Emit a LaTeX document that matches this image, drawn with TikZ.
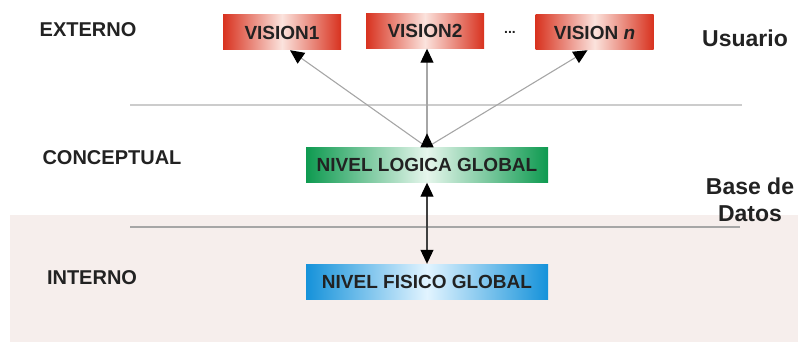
\documentclass[tikz,border=0pt]{standalone}
\usepackage{fontspec}
\setmainfont{Liberation Sans}
\usetikzlibrary{arrows.meta}
\definecolor{vred}{HTML}{D8321F}
\definecolor{vredl}{HTML}{FBE3DD}
\definecolor{lgreen}{HTML}{0E9A50}
\definecolor{lgreenl}{HTML}{E6F6EC}
\definecolor{fblue}{HTML}{1592DA}
\definecolor{fbluel}{HTML}{E2F4FF}
\definecolor{bdpink}{HTML}{F6EEEC}
\definecolor{txt}{HTML}{222222}
\tikzset{
  levelbox/.style={minimum height=35pt, inner sep=0pt, text=txt,
    font=\fontsize{19}{22}\selectfont\bfseries},
  viewbox/.style={levelbox, minimum width=118pt,
    left color=vred, right color=vred, middle color=vredl},
  logicbox/.style={levelbox, minimum width=242pt,
    left color=lgreen, right color=lgreen, middle color=lgreenl},
  physbox/.style={levelbox, minimum width=242pt,
    left color=fblue, right color=fblue, middle color=fbluel},
  tier/.style={text=txt, font=\fontsize{20}{22}\selectfont\bfseries},
  side/.style={text=txt, font=\fontsize{23}{27}\selectfont\bfseries, align=center},
  sepline/.style={line width=1.8pt},
  tri/.tip={Triangle[width=13pt,length=14pt,fill=black,color=black]},
  upt/.tip={Triangle[width=13pt,length=14pt,fill=black,color=black,reversed]},
  viewarr/.style={draw=gray!70, line width=1.1pt, -tri},
  linkarr/.style={draw=gray!70, line width=1.1pt, tri-tri}
}

\begin{document}
\begin{tikzpicture}[x=1pt, y=-1pt]
\useasboundingbox (0,0) rectangle (798,342);
% database area
\fill[bdpink] (10,215) rectangle (798,342);
\draw[sepline, black!20] (130,105) -- (742,105);
\draw[sepline, black!35] (130,227) -- (740,227);
% tiers
\node[tier] (ext) at (88,29.5) {EXTERNO};
\node[tier] (con) at (112,157.5) {CONCEPTUAL};
\node[tier] (int) at (92,278) {INTERNO};
\node[side, anchor=base] (usr) at (745,47) {Usuario};
\node[side, anchor=base] (bd) at (750,221) {Base de\\Datos};
% views
\node[viewbox] (v1) at (282,32.5) {VISION1};
\node[viewbox] (v2) at (425,31) {VISION2};
\node[viewbox] (vn) at (594.5,32.5) {VISION \textit{n}};
\node[text=txt, font=\fontsize{14}{16}\selectfont\bfseries] (dots) at (510,32) {...};
% global levels
\node[logicbox] (lg) at (427,165) {NIVEL LOGICA GLOBAL};
\node[physbox] (fs) at (427,281.5) {NIVEL FISICO GLOBAL};
% connections
\draw[viewarr] (lg.north) -- ([xshift=8pt]v1.south);
\draw[viewarr] (lg.north) -- ([xshift=-7pt]vn.south);
\draw[viewarr, upt-tri] (lg.north) -- (lg.north |- v2.south);
\draw[linkarr, draw=black!75] (lg.south) -- (fs.north);
\end{tikzpicture}
\end{document}
